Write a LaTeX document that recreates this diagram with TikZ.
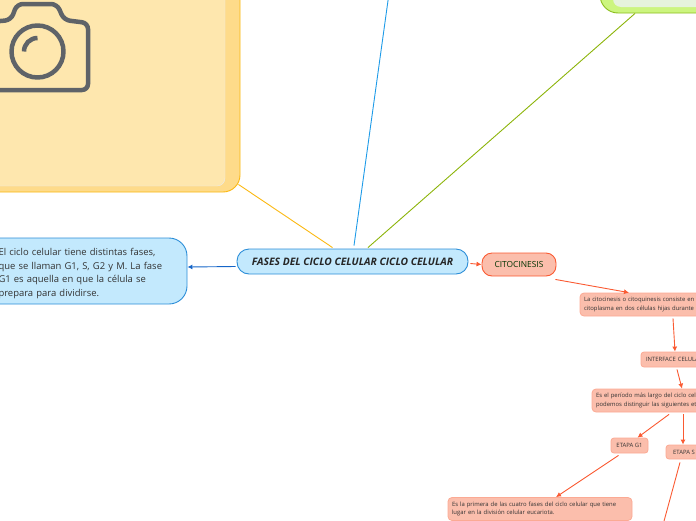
\documentclass[tikz,border=0pt]{standalone}
\usepackage{xcolor}
\usepackage{fontspec}
\setmainfont{Open Sans}
\usetikzlibrary{positioning,arrows.meta}
\definecolor{celblue}{RGB}{195,233,253}
\definecolor{celblueline}{RGB}{44,142,216}
\definecolor{celskyline}{RGB}{30,155,232}
\definecolor{celarrow}{RGB}{21,101,200}
\definecolor{celred}{RGB}{251,190,172}
\definecolor{celredline}{RGB}{250,90,50}
\definecolor{celyellow}{RGB}{254,231,174}
\definecolor{celyellowdark}{RGB}{254,219,138}
\definecolor{celyellowline}{RGB}{251,184,18}
\definecolor{celgreen}{RGB}{204,245,127}
\definecolor{celgreenline}{RGB}{140,190,30}
\definecolor{celolive}{RGB}{140,180,10}
\definecolor{celgreenin}{RGB}{230,243,220}
\definecolor{celgray}{RGB}{95,99,104}
\begin{document}
\begin{tikzpicture}[
      x=1pt, y=-1pt,
      mainbox/.style={draw=celblueline, line width=0.9pt, fill=celblue, rounded corners=12pt, minimum width=231pt, minimum height=25pt, inner sep=0pt, font=\fontsize{10.3}{12}\selectfont\bfseries\itshape, text=black!85},
      notebox/.style={draw=celblueline, line width=0.9pt, fill=celblue, rounded corners=18pt, minimum width=205pt, minimum height=66pt, inner xsep=16.5pt, inner ysep=0pt, text width=172pt, text height=12pt, align=left, font=\fontsize{9.45}{13.7}\selectfont, text=black!80},
      titlebox/.style={draw=celredline, line width=0.9pt, fill=celred, rounded corners=10pt, minimum width=74pt, minimum height=23pt, inner sep=0pt, font=\fontsize{8.4}{10}\selectfont, text=black!80!green},
      textbox/.style={draw=celred!80!celredline, line width=0.8pt, fill=celred, rounded corners=4pt, inner xsep=4pt, inner ysep=0pt, align=left, font=\fontsize{5.9}{8.5}\selectfont, text=black!80},
      tagbox/.style={draw=celred!80!celredline, line width=0.8pt, fill=celred, rounded corners=3pt, inner sep=0pt, font=\fontsize{5.9}{7}\selectfont, text=black!80},
      redarrow/.style={-{Latex[length=5pt,width=5pt]}, celredline, line width=0.9pt},
      camera/.style={draw=celgray, line width=4.5pt, line join=round}
    ]
      \clip (0,0) rectangle (696,520);

      % connectors from the centre up to the big boxes
      \coordinate (bluetop) at (388.5,-3);
      \node[draw=celyellowline, line width=0.9pt, fill=celyellowdark, rounded corners=17pt, minimum width=540pt, minimum height=492pt] (photobox) at (-30,-54) {};
      \node[draw=black!8, fill=celyellow, rounded corners=8pt, minimum width=525pt, minimum height=486pt] (photoin) at (-37.5,-57) {};
      \node[draw=celgreenline, line width=0.9pt, fill=celgreen, rounded corners=18pt, minimum width=300pt, minimum height=113pt] (greenbox) at (750,-43.5) {};
      \node[fill=celgreenin, rounded corners=8pt, minimum width=290pt, minimum height=107pt] (greenin) at (758,-46.5) {};

      % camera icon
      \draw[camera, rounded corners=6pt] (-10,22) -- (11,20) -- (17,4) -- (57,4) -- (64,20) -- (88,23) -- (88,90) -- (-10,90);
      \draw[camera] (37.5,51.5) circle (26);
      \draw[draw=celgray, line width=4.5pt] (24,51.5) arc[start angle=180, end angle=270, radius=13.5];

      % Row 1: centre and its neighbours
      \node[mainbox] (fases) at (352.5,261.5) {FASES DEL CICLO CELULAR CICLO CELULAR};
      \node[notebox] (ciclo) at (84.5,271) {El ciclo celular tiene distintas fases,\\que se llaman G1, S, G2 y M. La fase\\G1 es aquella en que la célula se\\prepara para dividirse.};
      \node[titlebox] (citocinesis) at (519,264.5) {CITOCINESIS};

      \draw[celyellowline, line width=0.9pt] ([xshift=-2pt,yshift=8pt]photobox.south east) -- ([xshift=-20pt,yshift=1pt]fases.north);
      \draw[celskyline, line width=0.9pt] (bluetop) -- ([xshift=1.5pt,yshift=3pt]fases.north);
      \draw[celolive, line width=0.9pt] ([xshift=-115pt]greenbox.south) -- ([xshift=15.5pt,yshift=1pt]fases.north);
      \draw[-{Latex[length=5pt,width=5pt]}, celarrow, line width=0.9pt] ([yshift=-5pt,xshift=-1pt]fases.west) -- ([yshift=4pt]ciclo.east);
      \draw[redarrow] ([xshift=2pt,yshift=-2pt]fases.east) -- (citocinesis.west);

      % Row 2: citocinesis and interface
      \node[textbox, minimum width=180pt, minimum height=23pt, text width=172pt] (citotext) at (670,304.5) {La citocinesis o citoquinesis consiste en la\\citoplasma en dos células hijas durante la};
      \node[tagbox, minimum width=84pt, minimum height=15pt, inner xsep=5pt, text width=74pt, align=left] (interface) at (683,359.5) {INTERFACE CELULAR};
      \node[textbox, minimum width=180pt, minimum height=23pt, text width=172pt] (periodo) at (682,400.5) {Es el período más largo del ciclo celular\\podemos distinguir las siguientes etapas};

      \draw[redarrow] ([xshift=-1pt,yshift=-3pt]citocinesis.south east) -- ([xshift=-41pt]citotext.north);
      \draw[redarrow] ([xshift=3pt,yshift=-2pt]citotext.south) -- ([xshift=-8pt]interface.north);
      \draw[redarrow] ([xshift=-6pt,yshift=-2pt]interface.south) -- (periodo.north);

      % Row 3: etapas
      \node[tagbox, minimum width=37pt, minimum height=15pt] (etapag) at (629.5,445.5) {ETAPA G1};
      \node[tagbox, minimum width=36pt, minimum height=14pt] (etapas) at (684,452) {ETAPA S};
      \node[textbox, minimum width=184pt, minimum height=23pt, text width=176pt] (primera) at (540,509) {Es la primera de las cuatro fases del ciclo celular que tiene\\lugar en la división celular eucariota.};
      \coordinate (etapasend) at (663.5,523);

      \draw[redarrow] ([xshift=-13pt,yshift=-2pt]periodo.south) -- ([xshift=8pt]etapag.north);
      \draw[redarrow] ([xshift=1pt,yshift=-2pt]periodo.south) -- ([xshift=-1pt]etapas.north);
      \draw[redarrow] ([xshift=-11pt,yshift=-2pt]etapag.south) -- ([xshift=16pt]primera.north);
      \draw[celredline, line width=0.9pt] ([xshift=-4pt,yshift=-3pt]etapas.south) -- (etapasend);
    \end{tikzpicture}
\end{document}
